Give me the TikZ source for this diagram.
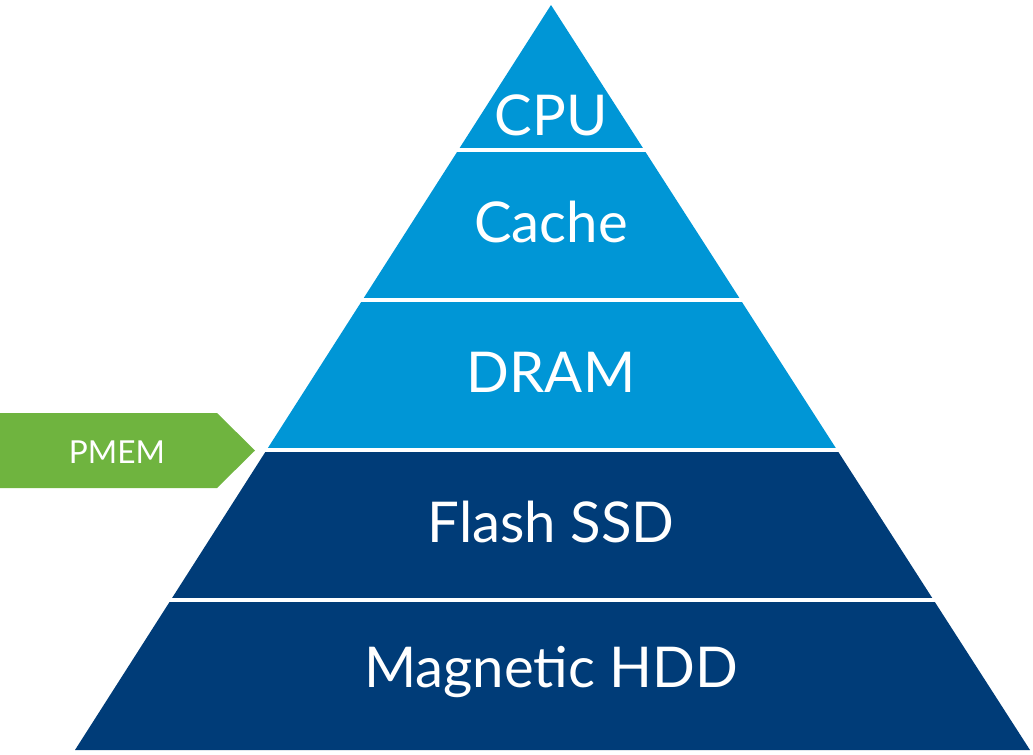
\documentclass[tikz,border=0pt]{standalone}
\usepackage{fontspec}
\setmainfont{Lato}
\usetikzlibrary{shapes}
\definecolor{lightblue}{HTML}{0096D6}
\definecolor{darkblue}{HTML}{003C78}
\definecolor{pmemgreen}{HTML}{6FB43F}
\tikzset{layer/.style={text=white,font=\fontsize{16}{18}\selectfont},
 gap/.style={draw=white,line width=1.2pt}}
\begin{document}
\begin{tikzpicture}[x=0.01cm,y=-0.01cm]
\useasboundingbox (0,0) rectangle (1033,754);
\fill[lightblue] (551,5) -- (266.6,450) -- (837.1,450) -- cycle;
\fill[darkblue] (266.6,450) -- (75,750) -- (1030,750) -- (837.1,450) -- cycle;
\draw[gap] (440,150) -- (660,150);
\draw[gap] (340,300) -- (760,300);
\draw[gap] (240,450) -- (860,450);
\draw[gap] (150,600) -- (950,600);
\fill[pmemgreen] (0,413) -- (217,413) -- (255,450.5) -- (217,488) -- (0,488) -- cycle;
\node[layer] (cpu) at (551,115) {CPU};
\node[layer] (cache) at (551,222) {Cache};
\node[layer] (dram) at (551,372) {DRAM};
\node[layer] (flash) at (551,522) {Flash SSD};
\node[layer] (hdd) at (551,672) {Magnetic HDD};
\node[text=white,font=\fontsize{9}{11}\selectfont] (pmem) at (117,452) {PMEM};
\end{tikzpicture}
\end{document}
